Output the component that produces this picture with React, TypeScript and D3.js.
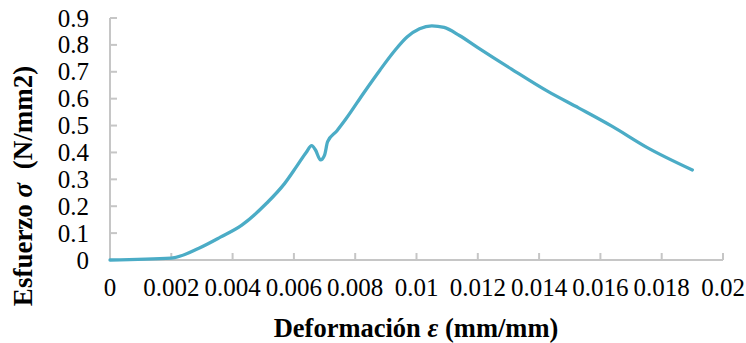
import * as d3 from 'd3';

const STRAIN = [
  0, 0.002, 0.0029, 0.0036, 0.0043, 0.0051, 0.0057, 0.0061, 0.0064, 0.00658,
  0.0067, 0.00687, 0.0070, 0.0071, 0.0074, 0.0077, 0.0083, 0.0088, 0.0093, 0.0097,
  0.0101, 0.0105, 0.0109, 0.0114, 0.012, 0.0131, 0.0143, 0.0153, 0.0164, 0.0175, 0.019,
];
const STRESS = [
  0, 0.007, 0.044, 0.085, 0.13, 0.21, 0.285, 0.35, 0.4, 0.425,
  0.41, 0.372, 0.39, 0.44, 0.48, 0.525, 0.625, 0.705, 0.78, 0.83,
  0.86, 0.871, 0.865, 0.835, 0.79, 0.71, 0.626, 0.565, 0.496, 0.42, 0.335,
];

const X_TICKS = [0, 0.002, 0.004, 0.006, 0.008, 0.01, 0.012, 0.014, 0.016, 0.018, 0.02];
const Y_TICKS = [0, 0.1, 0.2, 0.3, 0.4, 0.5, 0.6, 0.7, 0.8, 0.9];

const W = 746;
const H = 343;
const AXIS_COLOR = '#C6C6C6';
const LINE_COLOR = '#4BACC6';
const FONT = '"Liberation Serif", "Times New Roman", serif';

const fmt = (v: number) => String(+v.toFixed(3));

export default function App() {
  const x = d3.scaleLinear().domain([0, 0.02]).range([110, 723]);
  const y = d3.scaleLinear().domain([0, 0.9]).range([260, 18]);

  const line = d3.line<number>()
    .x((_, i) => x(STRAIN[i]))
    .y(d => y(d))
    .curve(d3.curveMonotoneX);

  return (
    <svg
      width={W}
      height={H}
      style={{ position: 'absolute', left: 0, top: 0, background: '#fff' }}
    >
      {/* Axes */}
      <line x1={x(0)} x2={x(0)} y1={y(0.9)} y2={y(0)} stroke={AXIS_COLOR} strokeWidth={2} />
      <line x1={x(0)} x2={x(0.02)} y1={y(0)} y2={y(0)} stroke={AXIS_COLOR} strokeWidth={2} />

      {Y_TICKS.map(t => (
        <g key={`y-${t}`}>
          <line x1={x(0)} x2={x(0) + 7} y1={y(t)} y2={y(t)} stroke={AXIS_COLOR} strokeWidth={2} />
          <text
            x={89} y={y(t)}
            textAnchor="end" dominantBaseline="central"
            fontSize={25} fontFamily={FONT} fill="#000"
          >
            {fmt(t)}
          </text>
        </g>
      ))}

      {X_TICKS.map(t => (
        <g key={`x-${t}`}>
          <line x1={x(t)} x2={x(t)} y1={y(0)} y2={y(0) - 7} stroke={AXIS_COLOR} strokeWidth={2} />
          <text
            x={x(t)} y={296}
            textAnchor="middle"
            fontSize={25} fontFamily={FONT} fill="#000"
          >
            {fmt(t)}
          </text>
        </g>
      ))}

      {/* Curve */}
      <path
        d={line(STRESS) ?? ''}
        fill="none"
        stroke={LINE_COLOR}
        strokeWidth={3.3}
        strokeLinejoin="round"
        strokeLinecap="round"
      />

      {/* Axis titles */}
      <text
        x={416} y={337}
        textAnchor="middle"
        fontSize={26.5} fontWeight="bold" fontFamily={FONT} fill="#000"
      >
        Deformación <tspan fontStyle="italic">ε</tspan> (mm/mm)
      </text>
      <text
        transform="translate(32,186) rotate(-90)"
        textAnchor="middle"
        fontSize={27} fontWeight="bold" fontFamily={FONT} fill="#000"
        style={{ whiteSpace: 'pre' }}
      >
        Esfuerzo <tspan fontStyle="italic">σ</tspan>{'  (N/mm2)'}
      </text>
    </svg>
  );
}
